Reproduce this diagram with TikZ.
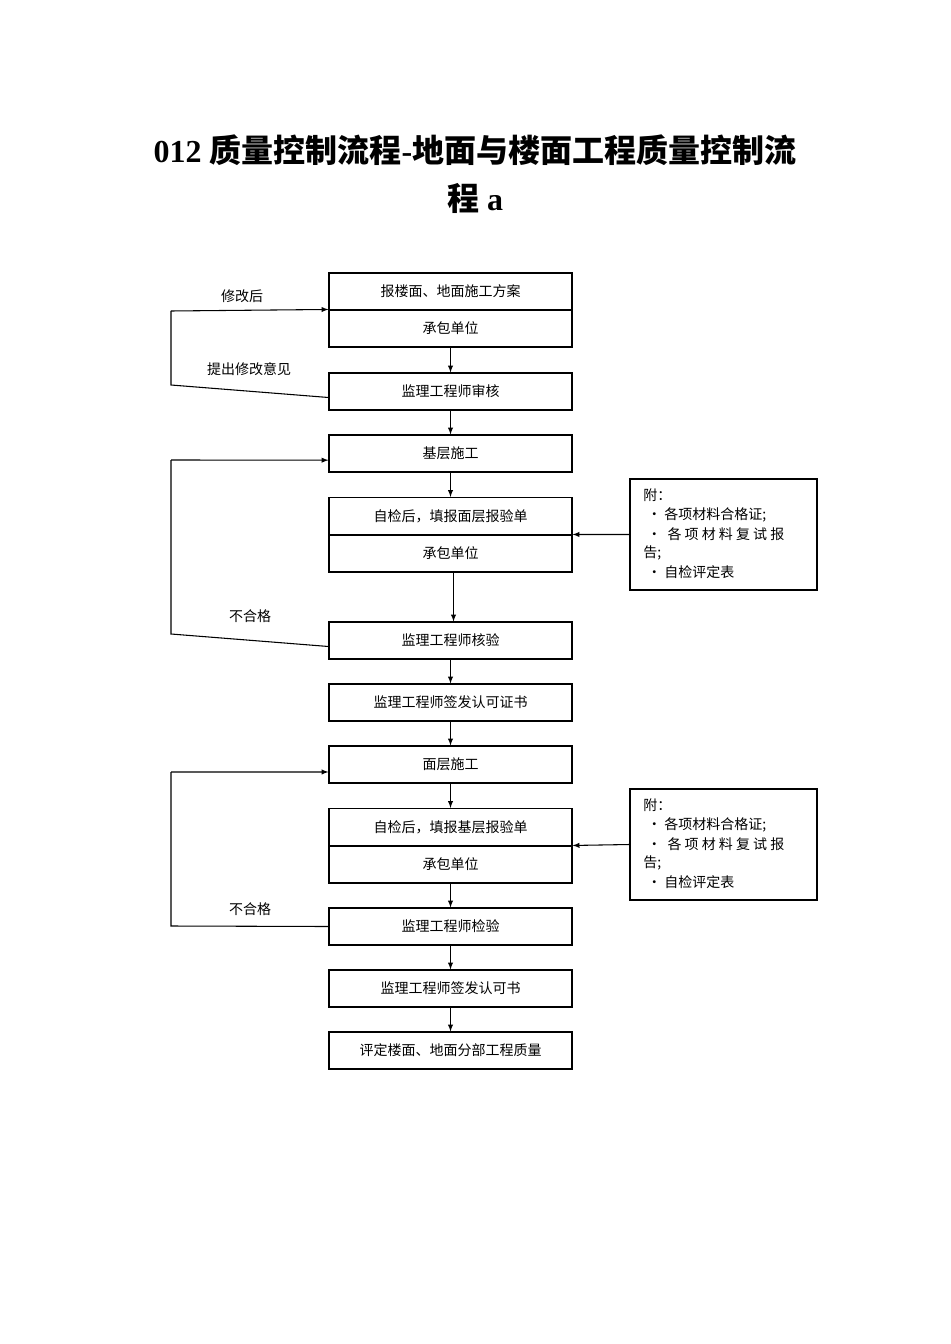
\documentclass[tikz,border=0pt]{standalone}
\usepackage{fontspec}
\setmainfont{Liberation Serif}
\newfontfamily\cjk{Noto Sans CJK SC}
\begin{document}
\begin{tikzpicture}[x=0.75pt,y=-0.75pt,
  box/.style={draw,line width=0.8pt,minimum width=182.25pt,minimum height=27.75pt,inner sep=0pt,font=\cjk\fontsize{10.5}{12}\selectfont},
  side/.style={draw,line width=0.8pt,minimum width=140.25pt,minimum height=83.25pt,inner sep=0pt},
  st/.style={anchor=west,inner sep=0pt,font=\cjk\fontsize{10.5}{12}\selectfont},
  lbl/.style={inner sep=0pt,font=\cjk\fontsize{10.5}{12}\selectfont},
  arr/.style={-latex,line width=0.8pt},
  ln/.style={line width=0.8pt}]
\fill[white] (0,0) rectangle (950,1344);
\node[font=\bfseries\fontsize{24}{28}\selectfont] (t1) at (475,150) {012 {\cjk 质量控制流程}-{\cjk 地面与楼面工程质量控制流}};
\node[font=\bfseries\fontsize{24}{28}\selectfont] (t2) at (475,198) {{\cjk 程} a};
\node[box] (b1) at (450.5,291.5) {报楼面、地面施工方案};
\node[box] (b1b) at (450.5,328.5) {承包单位};
\node[box] (b2) at (450.5,391.5) {监理工程师审核};
\node[box] (b3) at (450.5,453.5) {基层施工};
\node[box] (b4) at (450.5,516) {自检后，填报面层报验单};
\node[box] (b4b) at (450.5,553.5) {承包单位};
\node[box] (b5) at (450.5,640.5) {监理工程师核验};
\node[box] (b6) at (450.5,702.5) {监理工程师签发认可证书};
\node[box] (b7) at (450.5,764.5) {面层施工};
\node[box] (b8) at (450.5,827) {自检后，填报基层报验单};
\node[box] (b8b) at (450.5,864.5) {承包单位};
\node[box] (b9) at (450.5,926.5) {监理工程师检验};
\node[box] (b10) at (450.5,988.5) {监理工程师签发认可书};
\node[box] (b11) at (450.5,1050.5) {评定楼面、地面分部工程质量};
\node[side] (s1) at (723.5,534.5) {};
\node[side] (s2) at (723.5,844.5) {};
\foreach \s/\y in {s1/479,s2/789}{
 \node[st] (\s a) at (643,\y+16) {附：};
 \node[st] (\s b) at (647,\y+36) {•\ 各项材料合格证;};
 \node[st] (\s c) at (647,\y+55) {•\ \ 各\ 项\ 材\ 料\ 复\ 试\ 报};
 \node[st] (\s d) at (643,\y+74) {告;};
 \node[st] (\s e) at (647,\y+93) {•\ 自检评定表};
}
\draw[arr] (b1b) -- (b2);
\draw[arr] (b2) -- (b3);
\draw[arr] (b3) -- (b4);
\draw[arr] ([xshift=2.25pt]b4b.south) -- ([xshift=2.25pt]b5.north);
\draw[arr] (b5) -- (b6);
\draw[arr] (b6) -- (b7);
\draw[arr] (b7) -- (b8);
\draw[arr] (b8b) -- (b9);
\draw[arr] (b9) -- (b10);
\draw[arr] (b10) -- (b11);
\draw[arr] (s1.west) -- (b4b.north east);
\draw[arr] (s2.west) -- (b8b.north east);
\coordinate (c1) at (171,385); \coordinate (c2) at (171,311);
\draw[ln] ([yshift=-4.5pt]b2.west) -- (c1) -- (c2);
\draw[arr] (c2) -- (b1b.north west);
\coordinate (c3) at (171,634); \coordinate (c4) at (171,460);
\draw[ln] ([yshift=-4.5pt]b5.west) -- (c3) -- (c4);
\draw[arr] (c4) -- ([yshift=-5pt]b3.west);
\coordinate (c5) at (171,926); \coordinate (c6) at (171,772);
\draw[ln] (b9.west) -- (c5) -- (c6);
\draw[arr] (c6) -- ([yshift=-5.6pt]b7.west);
\node[lbl] (l1) at (242,296) {修改后};
\node[lbl] (l2) at (249,369) {提出修改意见};
\node[lbl] (l3) at (250,616) {不合格};
\node[lbl] (l4) at (250,909) {不合格};
\end{tikzpicture}
\end{document}
